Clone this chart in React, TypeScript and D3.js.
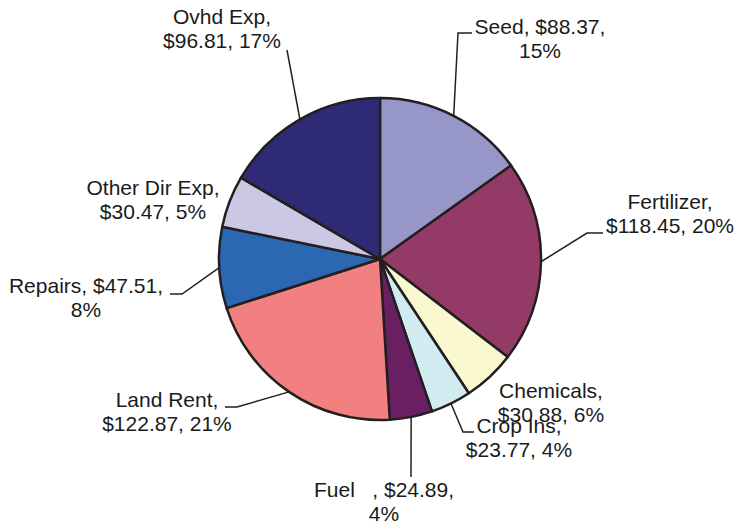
import React, { useEffect, useRef } from 'react';
import * as d3 from 'd3';

// chart data
const categories = ['Seed', 'Fertilizer', 'Chemicals', 'Crop Ins', 'Fuel   ', 'Land Rent', 'Repairs', 'Other Dir Exp', 'Ovhd Exp'];
const values = [88.37, 118.45, 30.88, 23.77, 24.89, 122.87, 47.51, 30.47, 96.81];
const percents = ['15%', '20%', '6%', '4%', '4%', '21%', '8%', '5%', '17%'];
const colors = ['#9696C8', '#943A66', '#FAF8CE', '#D0ECF0', '#6A1F63', '#F28080', '#2C67B1', '#CAC8E4', '#2E2A76'];

// label layout: text lines, anchor (centre x, first baseline), leader elbow + end
const labelLayout = [
  { lines: (c, v, p) => [`${c}, $${v},`, p], x: 540, y: 34, leader: [[458, 33], [472, 33]] },
  { lines: (c, v, p) => [`${c},`, `$${v}, ${p}`], x: 670, y: 209, leader: [[587, 233], [603, 233]] },
  { lines: (c, v, p) => [`${c},`, `$${v}, ${p}`], x: 551, y: 398, leader: null },
  { lines: (c, v, p) => [`${c},`, `$${v}, ${p}`], x: 519, y: 433, leader: [[463, 432], [474, 432]] },
  { lines: (c, v, p) => [`${c}, $${v},`, p], x: 384, y: 497, leader: [[411, 477]] },
  { lines: (c, v, p) => [`${c},`, `$${v}, ${p}`], x: 167, y: 407, leader: [[237, 407], [225, 407]] },
  { lines: (c, v, p) => [`${c}, $${v},`, p], x: 86, y: 293, leader: [[182, 294], [170, 294]] },
  { lines: (c, v, p) => [`${c},`, `$${v}, ${p}`], x: 153, y: 195, leader: null },
  { lines: (c, v, p) => [`${c},`, `$${v}, ${p}`], x: 222, y: 24, leader: [[287, 50]] },
];

const App = () => {
  const svgRef = useRef(null);

  useEffect(() => {
    const width = 736;
    const height = 527;
    const cx = 380;
    const cy = 259;
    const radius = 161;

    const svg = d3.select(svgRef.current);
    svg.selectAll('*').remove();
    svg.attr('width', width).attr('height', height);

    const data = categories.map((c, i) => ({ category: c, value: values[i], i }));

    const pie = d3.pie().value(d => d.value).sort(null);
    const arcs = pie(data);
    const arc = d3.arc().innerRadius(0).outerRadius(radius);

    const g = svg.append('g').attr('transform', `translate(${cx},${cy})`);

    g.selectAll('path.slice')
      .data(arcs)
      .enter()
      .append('path')
      .attr('class', 'slice')
      .attr('d', arc)
      .attr('fill', d => colors[d.data.i])
      .attr('stroke', '#231F20')
      .attr('stroke-width', 2.5)
      .attr('stroke-linejoin', 'round');

    // leader lines
    arcs.forEach(a => {
      const lay = labelLayout[a.data.i];
      if (!lay.leader) return;
      const mid = (a.startAngle + a.endAngle) / 2;
      const start = [cx + radius * Math.sin(mid), cy - radius * Math.cos(mid)];
      const pts = [start, ...lay.leader];
      svg.append('path')
        .attr('d', d3.line()(pts))
        .attr('fill', 'none')
        .attr('stroke', '#231F20')
        .attr('stroke-width', 1.5);
    });

    // labels
    arcs.forEach(a => {
      const i = a.data.i;
      const lay = labelLayout[i];
      const lines = lay.lines(categories[i], values[i].toFixed(2), percents[i]);
      const text = svg.append('text')
        .attr('x', lay.x)
        .attr('y', lay.y)
        .attr('text-anchor', 'middle')
        .attr('font-family', 'Liberation Sans, Arial, sans-serif')
        .attr('font-size', 21)
        .attr('fill', '#1a1a1a')
        .style('white-space', 'pre');
      lines.forEach((ln, k) => {
        text.append('tspan')
          .attr('x', lay.x)
          .attr('y', lay.y + k * 24)
          .text(ln);
      });
    });
  }, []);

  return (
    <div style={{ position: 'absolute', left: 0, top: 0 }}>
      <svg ref={svgRef}></svg>
    </div>
  );
};

export default App;
